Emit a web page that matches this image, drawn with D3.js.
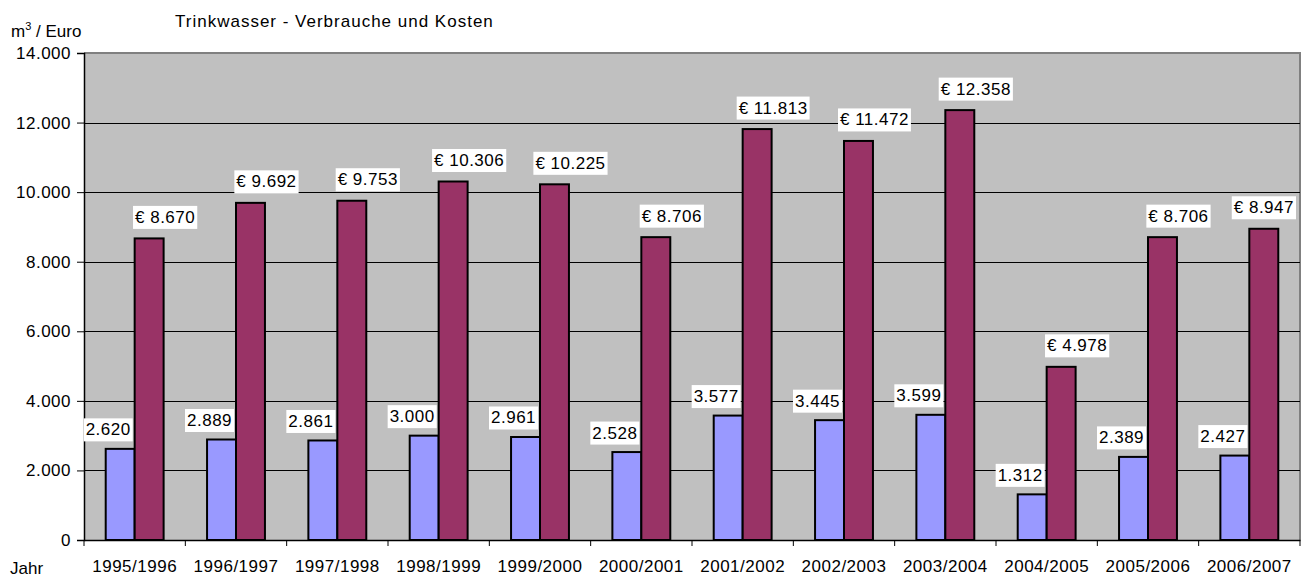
<!DOCTYPE html>
<html><head><meta charset="utf-8">
<script src="https://cdn.jsdelivr.net/npm/d3@7"></script>
<style>body{margin:0;background:#fff;}svg{display:block;font-family:"Liberation Sans",Arial,sans-serif;}</style>
</head><body><svg id="c" width="1308" height="578"></svg>
<script>
const categories = ["1995/1996","1996/1997","1997/1998","1998/1999","1999/2000","2000/2001","2001/2002","2002/2003","2003/2004","2004/2005","2005/2006","2006/2007"];
const verbrauch = [2620,2889,2861,3000,2961,2528,3577,3445,3599,1312,2389,2427];
const kosten = [8670,9692,9753,10306,10225,8706,11813,11472,12358,4978,8706,8947];
const yTicks = [0,2000,4000,6000,8000,10000,12000,14000];
const title = "Trinkwasser - Verbrauche und Kosten";

const svg = d3.select("#c");
const L = 84, R = 1300, T = 53, B = 540;
const FS = 17, LS = "0.5px";
const fmt = d3.formatLocale({decimal:",", thousands:".", grouping:[3], currency:["€ ",""]}).format(",.0f");

const x = d3.scaleBand().domain(categories).range([L, R]).paddingInner(0).paddingOuter(0);
const y = d3.scaleLinear().domain([0,14000]).range([B, T]);
const bw = x.bandwidth() / 3.5;

svg.append("rect").attr("x",L).attr("y",T).attr("width",R-L).attr("height",B-T).attr("fill","#C0C0C0");
svg.append("path").attr("d",`M${L},${T}H${R}V${B}`).attr("fill","none").attr("stroke","#808080").attr("stroke-width",2);

svg.append("g").selectAll("line").data(yTicks.filter(d=>d>0 && d<14000)).join("line")
  .attr("x1",L).attr("x2",R).attr("y1",d=>Math.round(y(d))+0.5).attr("y2",d=>Math.round(y(d))+0.5)
  .attr("stroke","#000").attr("stroke-width",1);

const yAxis = d3.axisLeft(y).tickValues(yTicks).tickFormat(d=>d===0?"0":fmt(d)).tickSizeOuter(0).tickSize(7).tickPadding(6);
const gy = svg.append("g").attr("transform",`translate(${L},0)`).call(yAxis);
gy.attr("font-size",null).attr("font-family",null);
gy.selectAll("text").style("font-size",FS+"px").style("letter-spacing",LS).attr("fill","#000");
gy.selectAll("line").attr("stroke","#000");
gy.select(".domain").attr("stroke","#000").attr("stroke-width",1.5);

const g = svg.append("g");
const groups = g.selectAll("g").data(categories).join("g");
groups.append("rect")
  .attr("x",(d)=>x(d)+bw*0.75).attr("width",bw)
  .attr("y",(d,i)=>y(verbrauch[i])).attr("height",(d,i)=>B-y(verbrauch[i]))
  .attr("fill","#9999FF").attr("stroke","#000").attr("stroke-width",2);
groups.append("rect")
  .attr("x",(d)=>x(d)+bw*1.75).attr("width",bw)
  .attr("y",(d,i)=>y(kosten[i])).attr("height",(d,i)=>B-y(kosten[i]))
  .attr("fill","#993366").attr("stroke","#000").attr("stroke-width",2);

const xAxis = d3.axisBottom(x).tickSize(0).tickSizeOuter(0).tickPadding(20);
const gx = svg.append("g").attr("transform",`translate(0,${B})`).call(xAxis);
gx.attr("font-size",null).attr("font-family",null);
gx.selectAll("text").style("font-size",FS+"px").style("letter-spacing",LS).attr("fill","#000");
gx.select(".domain").attr("stroke","#000").attr("stroke-width",1.5);
gx.selectAll(".bnd").data(categories.concat(["end"])).join("line")
  .attr("x1",(d,i)=>i<categories.length?x(d):R).attr("x2",(d,i)=>i<categories.length?x(d):R)
  .attr("y1",0).attr("y2",6).attr("stroke","#000");

function label(cx, cy, text){
  const t = svg.append("text").attr("x",cx).attr("y",cy).attr("text-anchor","middle")
    .attr("dominant-baseline","central").style("font-size",FS+"px").style("letter-spacing",LS).attr("fill","#000").text(text);
  let bb = t.node().getBBox();
  const maxRight = R - 4;
  if (bb.x + bb.width + 2 > maxRight) {
    t.attr("x", cx - (bb.x + bb.width + 2 - maxRight));
    bb = t.node().getBBox();
  }
  svg.insert("rect", () => t.node()).attr("x",bb.x-2).attr("y",bb.y-2).attr("width",bb.width+4).attr("height",bb.height+4).attr("fill","#fff");
}
categories.forEach((c,i)=>{
  label(x(c)+bw*1.25-12, y(verbrauch[i])-19, fmt(verbrauch[i]));
  label(x(c)+bw*2.25+16, y(kosten[i])-21, "€ "+fmt(kosten[i]));
});

svg.append("text").attr("x",175).attr("y",27).style("font-size",FS+"px").style("letter-spacing","1px").text(title);
const yl = svg.append("text").attr("x",11).attr("y",37).style("font-size",FS+"px");
yl.append("tspan").text("m");
yl.append("tspan").attr("dy",-7).style("font-size","11px").text("3");
yl.append("tspan").attr("dy",7).text(" / Euro");
svg.append("text").attr("x",10).attr("y",574).style("font-size",FS+"px").text("Jahr");
</script></body></html>
